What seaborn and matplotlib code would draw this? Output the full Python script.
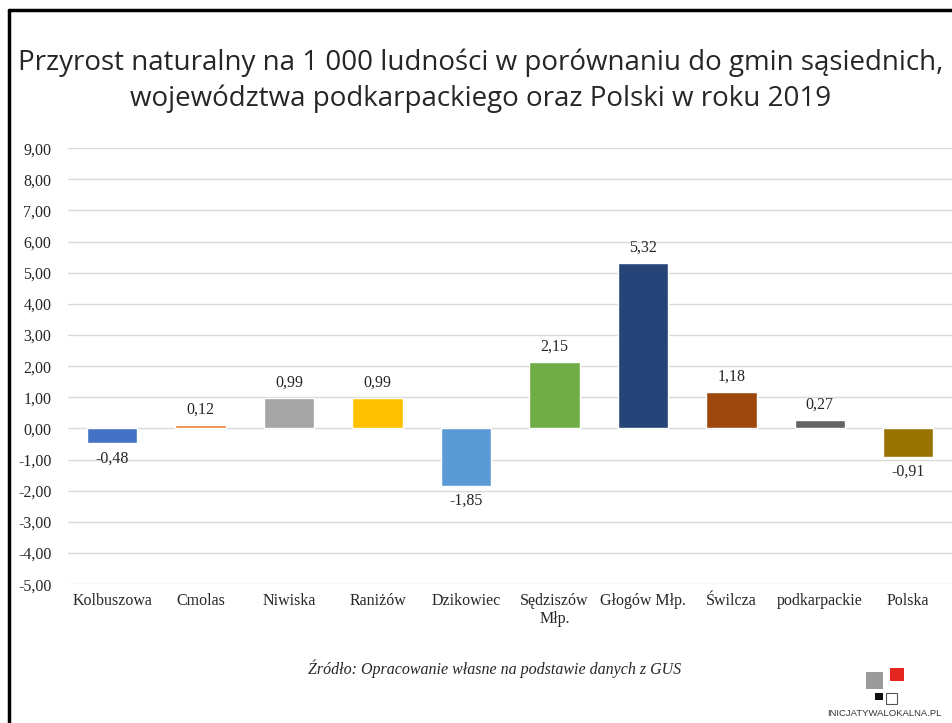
import matplotlib
matplotlib.use("Agg")
import matplotlib.pyplot as plt
import seaborn as sns
import pandas as pd
from matplotlib.patches import Rectangle
from matplotlib.lines import Line2D

# data
gminy = ["Kolbuszowa", "Cmolas", "Niwiska", "Raniżów", "Dzikowiec",
         "Sędziszów\nMłp.", "Głogów Młp.", "Świlcza", "podkarpackie", "Polska"]
przyrost = [-0.48, 0.12, 0.99, 0.99, -1.85, 2.15, 5.32, 1.18, 0.27, -0.91]
kolory = ["#4472C4", "#ED7D31", "#A5A5A5", "#FFC000", "#5B9BD5",
          "#70AD47", "#264478", "#9E480E", "#636363", "#997300"]
y_ticks = list(range(-5, 10))

df = pd.DataFrame({"gmina": gminy, "przyrost": przyrost})

sns.set_style("white")
plt.rcParams["font.family"] = ["Liberation Serif", "DejaVu Serif"]

fig = plt.figure(figsize=(9.53, 7.23), dpi=100)
ax = fig.add_axes([0.0714, 0.192, 0.928, 0.603])

sns.barplot(data=df, x="gmina", y="przyrost", hue="gmina", palette=kolory,
            legend=False, width=0.57, saturation=1, ax=ax)

ax.set_ylim(-5, 9)
ax.set_yticks(y_ticks)
ax.set_yticklabels([f"{v:.2f}".replace(".", ",") for v in y_ticks], fontsize=11.5)
ax.tick_params(axis="x", labelsize=11.5, length=0, pad=6)
ax.tick_params(axis="y", length=0, pad=12)
ax.grid(axis="y", color="#D9D9D9", linewidth=1)
ax.set_axisbelow(True)
for s in ax.spines.values():
    s.set_visible(False)
ax.set_xlabel("")
ax.set_ylabel("")

# value labels
for i, v in enumerate(przyrost):
    txt = f"{v:.2f}".replace(".", ",")
    if v >= 0:
        ax.annotate(txt, (i, v), xytext=(0, 5), textcoords="offset points",
                    ha="center", va="bottom", fontsize=11.5)
    else:
        ax.annotate(txt, (i, v), xytext=(0, -5), textcoords="offset points",
                    ha="center", va="top", fontsize=11.5)

fig.text(0.504, 0.888, "Przyrost naturalny na 1 000 ludności w porównaniu do gmin sąsiednich,\n"
         "województwa podkarpackiego oraz Polski w roku 2019",
         ha="center", va="center", fontsize=20, family=["Open Sans", "DejaVu Sans"],
         linespacing=1.37)

fig.text(0.519, 0.075, "Źródło: Opracowanie własne na podstawie danych z GUS",
         ha="center", va="center", fontsize=11.5, style="italic")

# slide border
fig.add_artist(Line2D([0.0094, 1.0], [0.9855, 0.9855], transform=fig.transFigure,
                      color="black", linewidth=2.5))
fig.add_artist(Line2D([0.0094, 0.0094], [0.0, 0.9855], transform=fig.transFigure,
                      color="black", linewidth=2.5))

# logo
W, H = 953, 723
def sq(x0, y0, x1, y1, fc, ec="none"):
    fig.add_artist(Rectangle((x0 / W, 1 - y1 / H), (x1 - x0) / W, (y1 - y0) / H,
                             transform=fig.transFigure, facecolor=fc, edgecolor=ec,
                             linewidth=0.8))
sq(866, 672, 883, 689, "#9B9B9B")
sq(890, 668, 904, 681, "#E3261F")
sq(875, 693, 883, 700, "#111111")
sq(886, 693, 897, 704, "white", "#555555")
fig.text(884 / W, 1 - 714 / H, "INICJATYWALOKALNA.PL", ha="center", va="center",
         fontsize=6.8, family=["Liberation Sans"], color="#333333")

fig.savefig("out.png", dpi=100)
